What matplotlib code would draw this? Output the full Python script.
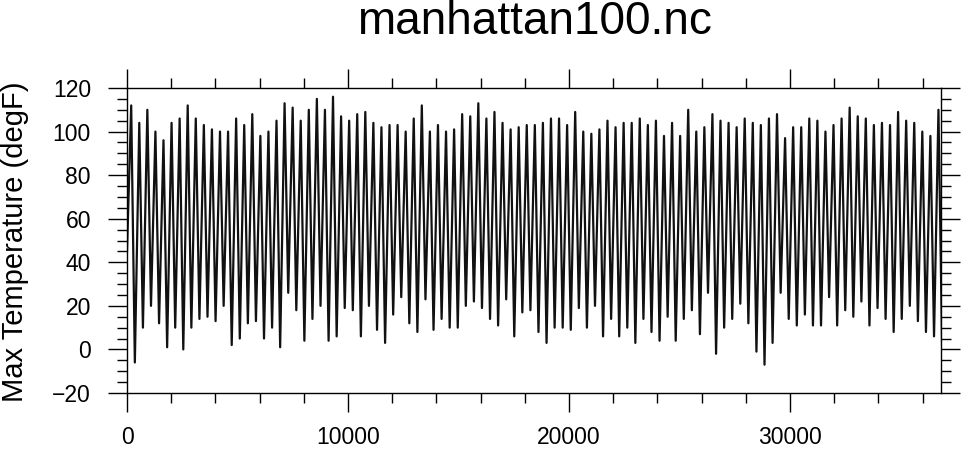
import numpy as np
import matplotlib
matplotlib.use("Agg")
import matplotlib.pyplot as plt
from matplotlib.ticker import MultipleLocator

plt.rcParams['font.family'] = ['Liberation Sans', 'DejaVu Sans']

# yearly summer peaks and winter lows of daily max temperature (degF)
highs = [112, 104, 110, 100, 96, 104, 106, 112, 106, 103, 101, 100, 100, 106, 103,
         108, 98, 100, 105, 113, 111, 105, 110, 115, 110, 116, 107, 105, 108, 109, 104, 102, 103,
         103, 100, 106, 112, 100, 103, 100, 101, 108, 107, 113, 106, 109, 104, 101, 102, 103,
         103, 104, 106, 106, 103, 109, 100, 99, 101, 105, 102, 104, 104, 106, 103, 105, 98,
         104, 98, 110, 100, 102, 108, 105, 104, 102, 106, 104, 103, 106, 108, 97, 102, 102, 106,
         105, 100, 103, 106, 111, 107, 106, 103, 104, 103, 109, 105, 104, 100, 98, 110]
lows = [-6, 10, 20, 12, 1, 10, 0, 10, 14, 15, 13, 20, 2, 5, 12,
        13, 5, 10, 1, 26, 18, 4, 14, 20, 4, 6, 19, 18, 6, 20, 9, 3,
        16, 24, 12, 8, 23, 9, 14, 10, 10, 20, 22, 19, 14, 11, 23, 6, 17, 18,
        8, 3, 10, 10, 9, 19, 10, 20, 6, 14, 6, 10, 3, 14, 8, 4, 15,
        4, 14, 18, 7, 26, -2, 10, 14, 21, 12, -1, -7, 3, 26, 14, 11, 16,
        11, 11, 24, 11, 18, 15, 22, 11, 19, 14, 8, 14, 20, 13, 8, 6, 1]
start_value = 45
peak_day = 190     # day of year of the summer peak
low_day = 355      # day of year of the winter low
x_max = 36830

days = [0]
temps = [start_value]
for k in range(len(highs)):
    days += [k * 365.25 + peak_day, k * 365.25 + low_day]
    temps += [highs[k], lows[k]]

fig = plt.figure(figsize=(9.61, 4.5), dpi=100)
ax = fig.add_axes([127 / 961, 57 / 450, 814 / 961, 305 / 450])
ax.plot(days, temps, color='#111111', lw=1.6)

ax.set_xlim(0, x_max)
ax.set_ylim(-20, 120)
ax.xaxis.set_major_locator(MultipleLocator(10000))
ax.xaxis.set_minor_locator(MultipleLocator(2000))
ax.yaxis.set_major_locator(MultipleLocator(20))
ax.yaxis.set_minor_locator(MultipleLocator(5))
ax.tick_params(which='both', direction='out', top=True, right=True, width=1,
               labelsize=16.5, pad=12)
ax.tick_params(axis='x', pad=10)
ax.tick_params(which='major', length=14)
ax.tick_params(which='minor', length=7)
for s in ax.spines.values():
    s.set_linewidth(1)

fig.text(534 / 961, 1 - 22 / 450, 'manhattan100.nc', ha='center', va='center', fontsize=33)
fig.text(15 / 961, 1 - 242 / 450, 'Max Temperature (degF)', ha='center', va='center',
         rotation=90, fontsize=21)

fig.savefig('out.png', dpi=100)
